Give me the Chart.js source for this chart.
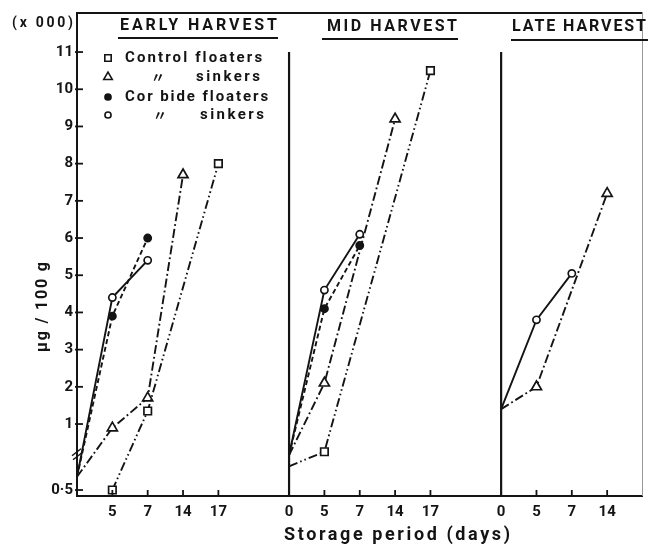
<!DOCTYPE html>
<html><head><meta charset="utf-8">
<script src="https://cdn.jsdelivr.net/npm/chart.js@4/dist/chart.umd.min.js"></script>
<style>html,body{margin:0;padding:0;background:#fff}#wrap{width:650px;height:544px}</style>
</head><body><div id="wrap"><canvas id="c" width="650" height="544"></canvas></div>
<script>
// ---------- DATA ----------
const panelTitles = ['EARLY HARVEST', 'MID HARVEST', 'LATE HARVEST'];
const earlyDays = [0, 5, 7, 14, 17];
const midDays = [0, 5, 7, 14, 17];
const lateDays = [0, 5, 7, 14];
const seriesNames = ['Control floaters', 'Control sinkers', 'Corbide floaters', 'Corbide sinkers'];
// values in thousands of µg / 100 g, aligned with the day arrays (null = no point)
const controlFloatersEarly = [null, 0.5, 1.35, null, 8.0];
const controlFloatersMid = [0.68, 0.79, null, null, 10.5];
const controlFloatersLate = [null, null, null, null];
const controlSinkersEarly = [0.6, 0.97, 1.7, 7.7, null];
const controlSinkersMid = [0.765, 2.1, null, 9.2, null];
const controlSinkersLate = [1.4, 2.0, null, 7.2];
const carbideFloatersEarly = [0.6, 3.9, 6.0, null, null];
const carbideFloatersMid = [0.765, 4.1, 5.8, null, null];
const carbideFloatersLate = [null, null, null, null];
const carbideSinkersEarly = [0.6, 4.4, 5.4, null, null];
const carbideSinkersMid = [0.765, 4.6, 6.1, null, null];
const carbideSinkersLate = [1.4, 3.8, 5.05, null];
const yTickValues = [0.5, 1, 2, 3, 4, 5, 6, 7, 8, 9, 10, 11];
const yTickLabels = ['0·5', '1', '2', '3', '4', '5', '6', '7', '8', '9', '10', '11'];
const yUnitLabel = '(x 000)';
const yTitle = 'µg / 100 g';
const xTitle = 'Storage period (days)';

// ---------- broken axis: below 1 the scale is compressed ----------
const BREAK_K = 3.548;
function toAxis(v) { return v >= 1 ? v : 1 - (1 - v) * BREAK_K; }
const Y_MIN = -0.935, Y_MAX = 12.05;

// panels laid out on one linear x axis (ordinal slots)
const panels = [
  { offset: 0, days: earlyDays },
  { offset: 6, days: midDays },
  { offset: 12, days: lateDays }
];
function buildData(byPanel) {
  const out = [];
  panels.forEach((p, pi) => {
    p.days.forEach((d, i) => {
      const v = byPanel[pi][i];
      if (v !== null) out.push({ x: p.offset + i, y: toAxis(v), day: d, value: v });
    });
    out.push({ x: p.offset + p.days.length, y: null });
  });
  return out;
}
const xLabelMap = {};
const xTickSlots = [];
panels.forEach((p) => p.days.forEach((d, i) => {
  if (p.offset === 0 && i === 0) return;
  xLabelMap[p.offset + i] = String(d);
  xTickSlots.push(p.offset + i);
}));

const INK = '#141414';
const styles = [
  { pointStyle: 'rect', radius: 5.3, bg: '#fff', dash: [9, 3, 1.6, 3, 1.6, 3] },
  { pointStyle: 'triangle', radius: 5.8, bg: '#fff', dash: [9, 3, 1.8, 3] },
  { pointStyle: 'circle', radius: 3.6, bg: INK, dash: [5, 3] },
  { pointStyle: 'circle', radius: 3.6, bg: '#fff', dash: [] }
];
const seriesData = [
  [controlFloatersEarly, controlFloatersMid, controlFloatersLate],
  [controlSinkersEarly, controlSinkersMid, controlSinkersLate],
  [carbideFloatersEarly, carbideFloatersMid, carbideFloatersLate],
  [carbideSinkersEarly, carbideSinkersMid, carbideSinkersLate]
];
const datasets = seriesData.map((s, i) => ({
  label: seriesNames[i],
  data: buildData(s),
  borderColor: INK,
  borderWidth: 1.9,
  borderDash: styles[i].dash,
  tension: 0,
  spanGaps: false,
  fill: false,
  pointStyle: styles[i].pointStyle,
  pointRadius: (c) => (c.raw && c.raw.day === 0 ? 0 : styles[i].radius),
  pointBackgroundColor: styles[i].bg,
  pointBorderColor: INK,
  pointBorderWidth: 1.7
}));

const FONT = 'Roboto, "DejaVu Sans", "Noto Sans CJK JP", sans-serif';

function fitText(ctx, text, x0, x1, y, font) {
  ctx.save();
  ctx.font = font;
  ctx.letterSpacing = '0px';
  const n = Array.from(text).length;
  const w = ctx.measureText(text).width;
  const ls = (x1 - x0 - w) / Math.max(1, n - 1);
  ctx.letterSpacing = ls + 'px';
  ctx.textAlign = 'left';
  ctx.textBaseline = 'middle';
  ctx.fillStyle = INK;
  ctx.fillText(text, x0, y);
  ctx.restore();
}
function line(ctx, x0, y0, x1, y1, w) {
  ctx.beginPath(); ctx.lineWidth = w; ctx.moveTo(x0, y0); ctx.lineTo(x1, y1); ctx.stroke();
}
function marker(ctx, st, x, y, r) {
  ctx.save();
  ctx.setLineDash([]);
  ctx.fillStyle = st.bg; ctx.strokeStyle = INK; ctx.lineWidth = 1.6;
  if (Chart.helpers && Chart.helpers.drawPoint) {
    Chart.helpers.drawPoint(ctx, { pointStyle: st.pointStyle, radius: r, rotation: 0, borderWidth: 1.6 }, x, y);
  } else {
    ctx.beginPath();
    if (st.pointStyle === 'rect') { const h = r * Math.SQRT1_2; ctx.rect(x - h, y - h, 2 * h, 2 * h); }
    else if (st.pointStyle === 'triangle') {
      ctx.moveTo(x, y - r); ctx.lineTo(x + r * 0.866, y + r * 0.5); ctx.lineTo(x - r * 0.866, y + r * 0.5); ctx.closePath();
    } else { ctx.arc(x, y, r, 0, Math.PI * 2); }
    ctx.fill(); ctx.stroke();
  }
  ctx.restore();
}

const decor = {
  id: 'decor',
  afterDraw(chart) {
    const ctx = chart.ctx, a = chart.chartArea;
    const xs = chart.scales.x, ys = chart.scales.y;
    ctx.save();
    ctx.strokeStyle = INK; ctx.setLineDash([]);
    // frame top and right
    line(ctx, a.left - 1, a.top, a.right, a.top, 2);
    ctx.strokeStyle = '#999';
    line(ctx, a.right, a.top, a.right, a.bottom, 1);
    ctx.strokeStyle = INK;
    // panel separators
    [6, 12].forEach((s) => {
      const px = xs.getPixelForValue(s);
      line(ctx, px, ys.getPixelForValue(11), px, a.bottom, 2.2);
    });
    // inward ticks
    xTickSlots.forEach((s) => {
      if (s === 6 || s === 12) return;
      const px = xs.getPixelForValue(s);
      line(ctx, px, a.bottom, px, a.bottom - 6, 1.8);
    });
    yTickValues.forEach((v) => {
      const py = ys.getPixelForValue(toAxis(v));
      line(ctx, a.left - 2, py, a.left + 6, py, 1.8);
    });
    // axis break marks
    const pb = ys.getPixelForValue(0.2);
    line(ctx, a.left - 5, pb + 2, a.left + 4, pb - 5, 1.5);
    line(ctx, a.left - 4, pb + 6, a.left + 5, pb - 1, 1.5);
    // panel titles with underline
    const tpos = [[120, 277, 26, 118, 278, 38], [327, 457, 27, 322, 458, 39], [512, 646, 27, 511, 648, 40]];
    panelTitles.forEach((t, i) => {
      const p = tpos[i];
      fitText(ctx, t, p[0], p[1], p[2], 'bold 16px ' + FONT);
      line(ctx, p[3], p[5], p[4], p[5], 1.8);
    });
    // unit label and axis titles
    fitText(ctx, yUnitLabel, 12, 73, 23, 'bold 14px ' + FONT);
    ctx.save();
    ctx.translate(43, 307);
    ctx.rotate(-Math.PI / 2);
    fitText(ctx, yTitle, -45, 45, 0, 'bold 16px ' + FONT);
    ctx.restore();
    fitText(ctx, xTitle, 284, 510, 535, 'bold 18px ' + FONT);
    // legend
    const legendRows = [
      { y: 58, parts: [[seriesNames[0], 125, 262]] },
      { y: 77, parts: [['〃', 153, 163], ['sinkers', 196, 260]] },
      { y: 97, parts: [['Cor bide floaters', 125, 268]] },
      { y: 115, parts: [['〃', 155, 165], ['sinkers', 200, 264]] }
    ];
    legendRows.forEach((r, i) => {
      marker(ctx, styles[i], 108, r.y, styles[i].radius * 0.85);
      r.parts.forEach((p) => {
        if (p[0] === '〃') {
          ctx.save(); ctx.font = 'bold 14px ' + FONT; ctx.fillStyle = INK;
          ctx.textAlign = 'center'; ctx.textBaseline = 'middle';
          ctx.fillText(p[0], (p[1] + p[2]) / 2, r.y + 1); ctx.restore();
        } else {
          fitText(ctx, p[0], p[1], p[2], r.y, 'bold 15px ' + FONT);
        }
      });
    });
    ctx.restore();
  }
};

new Chart(document.getElementById('c'), {
  type: 'line',
  data: { datasets },
  plugins: [decor],
  options: {
    responsive: false,
    animation: false,
    devicePixelRatio: 1,
    layout: { padding: { top: 13, right: 2, left: 0, bottom: 0 } },
    plugins: { legend: { display: false }, tooltip: { enabled: false } },
    scales: {
      x: {
        type: 'linear', min: 0, max: 16,
        afterFit: (s) => { s.height = 48; },
        afterBuildTicks: (s) => { s.ticks = xTickSlots.map((v) => ({ value: v })); },
        ticks: { autoSkip: false, maxRotation: 0, padding: 7, color: INK,
          font: { family: FONT, size: 15, weight: 'bold' },
          callback: (v) => (xLabelMap[v] !== undefined ? xLabelMap[v] : '') },
        grid: { drawOnChartArea: false, drawTicks: false },
        border: { display: true, color: INK, width: 2 }
      },
      y: {
        type: 'linear', min: Y_MIN, max: Y_MAX,
        afterFit: (s) => { s.width = 77; },
        afterBuildTicks: (s) => { s.ticks = yTickValues.map((v) => ({ value: toAxis(v) })); },
        ticks: { autoSkip: false, padding: 4, color: INK,
          font: { family: FONT, size: 15, weight: 'bold' },
          callback: (v, i) => yTickLabels[i] },
        grid: { drawOnChartArea: false, drawTicks: false },
        border: { display: true, color: INK, width: 2 }
      }
    }
  }
});
</script>
</body></html>
